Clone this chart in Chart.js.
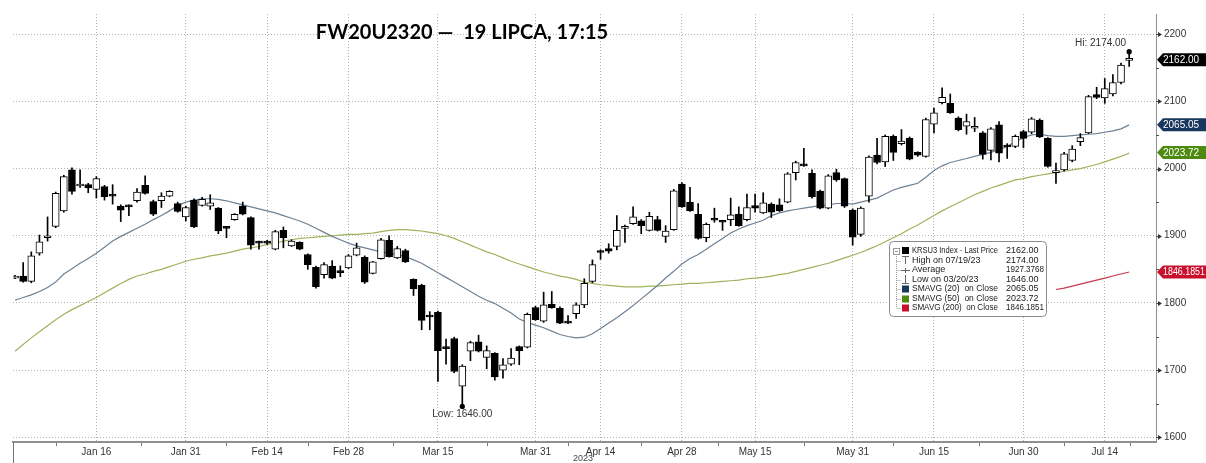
<!DOCTYPE html>
<html>
<head>
<meta charset="utf-8">
<script src="https://cdn.jsdelivr.net/npm/chart.js@4.4.1/dist/chart.umd.min.js"></script>
<style>
  html, body { margin: 0; padding: 0; background: #fff; }
  #wrap { position: relative; width: 1206px; height: 463px; }
</style>
</head>
<body>
<div id="wrap"><canvas id="chart" width="1206" height="463"></canvas></div>
<script>
// trading days (Dec 30 2022 .. Jul 19 2023)
const decDays = [30];
const janDays = [2,3,4,5,9,10,11,12,13,16,17,18,19,20,23,24,25,26,27,30,31];
const febDays = [1,2,3,6,7,8,9,10,13,14,15,16,17,20,21,22,23,24,27,28];
const marDays = [1,2,3,6,7,8,9,10,13,14,15,16,17,20,21,22,23,24,27,28,29,30,31];
const aprDays = [3,4,5,6,11,12,13,14,17,18,19,20,21,24,25,26,27,28];
const mayDays = [2,4,5,8,9,10,11,12,15,16,17,18,19,22,23,24,25,26,29,30,31];
const junDays = [1,2,5,6,7,9,12,13,14,15,16,19,20,21,22,23,26,27,28,29,30];
const julDays = [3,4,5,6,7,10,11,12,13,14,17,18,19];

const tickNames = ['Jan 16','Jan 31','Feb 14','Feb 28','Mar 15','Mar 31','Apr 14','Apr 28','May 15','May 31','Jun 15','Jun 30','Jul 14'];
const yTicks = [1600,1700,1800,1900,2000,2100,2200];

const opens = [
  1837,1840,1832,1874,1897,1914,1937,1998,1974,1976,
  1969,1973,1961,1944,1945,1952,1975,1951,1952,1959,
  1948,1928,1953,1945,1944,1941,1913,1924,1944,1927,
  1891,1892,1880,1908,1885,1890,1872,1853,1842,1855,
  1847,1852,1871,1868,1844,1866,1893,1867,1878,1835,
  1826,1781,1786,1734,1747,1676,1728,1742,1719,1725,
  1700,1709,1735,1734,1793,1773,1798,1792,1772,1784,
  1797,1832,1877,1881,1884,1911,1918,1922,1908,1924,
  1899,1909,1977,1950,1932,1897,1925,1922,1924,1932,
  1924,1945,1934,1947,1946,1950,1994,2007,1993,1966,
  1941,1994,1985,1938,1902,1959,2020,2010,2048,2037,
  2045,2024,2018,2066,2098,2097,2075,2063,2060,2053,
  2027,2065,2035,2033,2055,2054,2072,2045,1994,1998,
  2012,2040,2053,2110,2105,2111,2128,2161
];
const highs = [
  1841,1860,1876,1901,1928,1965,1990,2001,1998,1978,
  1988,1975,1976,1946,1946,1970,1989,1953,1964,1967,
  1950,1944,1955,1957,1961,1942,1914,1933,1950,1928,
  1892,1893,1908,1913,1894,1891,1873,1855,1860,1863,
  1855,1872,1889,1870,1862,1896,1900,1884,1880,1836,
  1828,1787,1788,1746,1749,1708,1743,1752,1736,1726,
  1717,1732,1736,1785,1795,1816,1817,1794,1781,1800,
  1836,1864,1879,1888,1930,1916,1943,1924,1935,1929,
  1915,1969,1979,1972,1948,1919,1941,1923,1956,1943,
  1962,1962,1964,1949,1955,1994,2011,2030,1998,1968,
  1991,1999,1986,1940,1943,2019,2045,2050,2050,2058,
  2047,2025,2075,2090,2120,2111,2077,2081,2076,2055,
  2061,2070,2037,2050,2057,2076,2074,2046,2008,2024,
  2034,2052,2109,2121,2134,2140,2157,2174
];
const lows = [
  1836,1831,1830,1871,1892,1912,1935,1962,1972,1964,
  1956,1953,1947,1921,1930,1950,1962,1930,1942,1958,
  1935,1922,1912,1944,1939,1903,1897,1923,1931,1880,
  1880,1887,1879,1882,1884,1879,1850,1822,1837,1836,
  1839,1851,1870,1829,1843,1865,1868,1866,1860,1811,
  1760,1760,1683,1709,1696,1646,1714,1727,1702,1685,
  1688,1707,1708,1733,1774,1771,1792,1769,1769,1777,
  1793,1830,1865,1874,1879,1890,1917,1903,1907,1907,
  1890,1908,1942,1936,1895,1891,1920,1908,1915,1914,
  1922,1935,1933,1927,1936,1949,1983,2003,1956,1940,
  1940,1981,1942,1886,1899,1950,2007,2003,2012,2035,
  2013,2018,2017,2053,2096,2082,2056,2051,2055,2014,
  2013,2010,2015,2031,2031,2052,2046,2002,1978,1996,
  2010,2034,2052,2104,2097,2108,2126,2152
];
const closes = [
  1839,1832,1870,1891,1899,1963,1988,1966,1977,1971,
  1985,1958,1959,1938,1943,1965,1963,1932,1959,1966,
  1936,1942,1913,1954,1949,1907,1911,1932,1932,1886,
  1889,1889,1906,1897,1892,1880,1857,1824,1857,1837,
  1845,1870,1882,1831,1861,1894,1869,1881,1861,1821,
  1774,1779,1729,1732,1698,1706,1741,1728,1729,1690,
  1708,1718,1729,1783,1775,1797,1793,1770,1770,1797,
  1829,1857,1875,1877,1908,1914,1928,1915,1929,1908,
  1907,1967,1943,1937,1896,1917,1923,1920,1931,1915,
  1942,1941,1949,1935,1937,1992,2009,2004,1958,1941,
  1989,1983,1944,1898,1941,2017,2009,2048,2024,2041,
  2014,2020,2073,2083,2106,2083,2058,2070,2063,2021,
  2059,2023,2032,2048,2045,2074,2047,2003,1996,2022,
  2029,2046,2107,2106,2119,2128,2154,2162
];
const sma20 = [
  1804,1808,1812,1817,1823,1831,1843,1851,1859,1866,
  1874,1883,1892,1899,1905,1911,1917,1924,1930,1937,
  1945,1950,1953,1955,1955,1954,1952,1949,1946,1943,
  1940,1937,1934,1930,1926,1922,1917,1911,1905,1899,
  1894,1889,1885,1882,1879,1876,1874,1872,1869,1864,
  1859,1852,1845,1838,1831,1824,1817,1810,1804,1799,
  1792,1785,1776,1771,1767,1763,1758,1753,1750,1748,
  1749,1754,1762,1770,1778,1787,1796,1806,1816,1826,
  1837,1847,1858,1866,1872,1880,1888,1896,1904,1910,
  1915,1919,1923,1930,1934,1937,1939,1941,1943,1945,
  1946,1948,1948,1947,1950,1953,1956,1962,1968,1972,
  1975,1978,1987,1997,2004,2009,2012,2015,2018,2021,
  2024,2028,2033,2040,2046,2050,2051,2049,2048,2048,
  2049,2050,2051,2052,2054,2056,2059,2065
];
const sma50 = [
  1728,1738,1748,1757,1766,1775,1783,1790,1796,1802,
  1808,1815,1822,1829,1835,1840,1843,1847,1850,1854,
  1858,1862,1865,1867,1870,1872,1874,1877,1880,1882,
  1884,1887,1889,1892,1894,1896,1897,1898,1899,1900,
  1901,1902,1902,1903,1904,1906,1908,1909,1909,1908,
  1907,1905,1903,1900,1896,1891,1886,1881,1876,1872,
  1867,1862,1858,1854,1850,1846,1843,1840,1838,1835,
  1831,1829,1827,1826,1825,1824,1824,1824,1825,1825,
  1826,1827,1828,1829,1829,1830,1831,1832,1833,1834,
  1836,1837,1838,1840,1842,1844,1847,1850,1853,1856,
  1859,1863,1867,1871,1875,1880,1885,1891,1897,1903,
  1910,1916,1923,1930,1937,1943,1949,1955,1961,1966,
  1971,1975,1979,1983,1985,1988,1990,1992,1994,1996,
  1998,2000,2003,2006,2010,2014,2018,2023
];
const sma200Start = 128;
const sma200 = [1820,1822,1825,1828,1831,1834,1837,1840,1843,1846];

const legendRows = [
  ['KRSU3 Index - Last Price', '2162.00'],
  ['High on 07/19/23', '2174.00'],
  ['Average', '1927.3768'],
  ['Low on 03/20/23', '1646.00'],
  ['SMAVG (20)  on Close', '2065.05'],
  ['SMAVG (50)  on Close', '2023.72'],
  ['SMAVG (200)  on Close', '1846.1851']
];
const titleText = 'FW20U2320 \u2014  19 LIPCA, 17:15';

const sma20Color = '#6e8194';
const sma50Color = '#9db35c';
const sma200Color = '#c7354f';

// build category dates
const monthParts = [['Dec', decDays], ['Jan', janDays], ['Feb', febDays], ['Mar', marDays],
                    ['Apr', aprDays], ['May', mayDays], ['Jun', junDays], ['Jul', julDays]];
const dates = [];
monthParts.forEach(([m, days]) => days.forEach(d => dates.push(m + ' ' + d)));
const tickIdx = tickNames.map(n => dates.indexOf(n));

const wicks = dates.map((d, i) => ({ x: i, y: [lows[i], highs[i]] }));
const bodies = dates.map((d, i) => ({ x: i, y: [opens[i], closes[i]] }));
const line20 = sma20.map((v, i) => ({ x: i, y: v }));
const line50 = sma50.map((v, i) => ({ x: i, y: v }));
const line200 = sma200.map((v, i) => ({ x: sma200Start + i, y: v }));

const uiFont = '"Liberation Sans", Arial, sans-serif';

function drawTag(c, y, text, color, left) {
  c.fillStyle = color;
  c.beginPath();
  c.moveTo(left, y);
  c.lineTo(left + 6, y - 6.5);
  c.lineTo(1206, y - 6.5);
  c.lineTo(1206, y + 6.5);
  c.lineTo(left + 6, y + 6.5);
  c.closePath();
  c.fill();
  c.fillStyle = '#fff';
  c.font = '10px ' + uiFont;
  c.textAlign = 'left';
  c.textBaseline = 'middle';
  c.fillText(text, left + 6, y + 0.5, 1206 - left - 7);
}

const overlay = {
  id: 'overlay',
  afterDraw(chart) {
    const c = chart.ctx, xs = chart.scales.x, ys = chart.scales.y, a = chart.chartArea;
    c.save();

    // title
    c.fillStyle = '#000';
    c.font = 'bold 20px Lato, "Open Sans", sans-serif';
    c.textAlign = 'center';
    c.textBaseline = 'middle';
    c.fillText(titleText, 462, 33);

    // y axis arrows + minor ticks
    c.fillStyle = '#333';
    c.strokeStyle = '#555';
    c.lineWidth = 1;
    yTicks.forEach(v => {
      const py = Math.round(ys.getPixelForValue(v)) + 0.5;
      c.beginPath(); c.moveTo(a.right, py); c.lineTo(a.right + 3, py); c.stroke();
      c.beginPath(); c.moveTo(a.right + 2, py - 2.5); c.lineTo(a.right + 6, py); c.lineTo(a.right + 2, py + 2.5); c.closePath(); c.fill();
    });
    for (let v = 1650; v < 2230; v += 100) {
      const py = Math.round(ys.getPixelForValue(v)) + 0.5;
      c.beginPath(); c.moveTo(a.right, py); c.lineTo(a.right + 3, py); c.stroke();
    }

    // x minor ticks between labelled dates
    c.strokeStyle = '#777';
    for (let k = 0; k < tickIdx.length; k++) {
      const mid = k === 0 ? tickIdx[0] / 2 : (tickIdx[k - 1] + tickIdx[k]) / 2;
      const px = Math.round(xs.getPixelForValue(mid)) + 0.5;
      c.beginPath(); c.moveTo(px, a.bottom + 1); c.lineTo(px, a.bottom + 4); c.stroke();
    }
    const lastMid = (tickIdx[tickIdx.length - 1] + xs.max) / 2;
    const lpx = Math.round(xs.getPixelForValue(lastMid)) + 0.5;
    c.beginPath(); c.moveTo(lpx, a.bottom + 1); c.lineTo(lpx, a.bottom + 4); c.stroke();
    c.beginPath(); c.moveTo(a.left + 0.5, a.bottom); c.lineTo(a.left + 0.5, 463); c.stroke();

    // year
    c.fillStyle = '#444';
    c.font = '9px ' + uiFont;
    c.textAlign = 'center';
    c.fillText('2023', 583, 459);

    // hi / low markers
    const hiIdx = highs.indexOf(Math.max(...highs));
    const loIdx = lows.indexOf(Math.min(...lows));
    const hx = xs.getPixelForValue(hiIdx), hy = ys.getPixelForValue(highs[hiIdx]);
    const lx = xs.getPixelForValue(loIdx), ly = ys.getPixelForValue(lows[loIdx]);
    c.fillStyle = '#000';
    c.beginPath(); c.arc(hx, hy, 2.6, 0, Math.PI * 2); c.fill();
    c.beginPath(); c.arc(lx, ly, 2.6, 0, Math.PI * 2); c.fill();
    c.fillStyle = '#333';
    c.font = '10px ' + uiFont;
    c.textAlign = 'right';
    c.fillText('Hi: ' + highs[hiIdx].toFixed(2), hx - 3, hy - 8);
    c.textAlign = 'center';
    c.fillText('Low: ' + lows[loIdx].toFixed(2), lx, ly + 8);

    // right tags
    const tagCols = ['#000', '#17375e', '#4f8a10', '#c8102e'];
    const tagRows = [0, 4, 5, 6];
    tagRows.forEach((r, k) => {
      const val = parseFloat(legendRows[r][1]);
      drawTag(c, ys.getPixelForValue(val), legendRows[r][1], tagCols[k], a.right + 1);
    });

    // legend box
    const bx = 889.5, by = 241.5, bw = 157, bh = 75;
    c.fillStyle = '#fff';
    c.strokeStyle = '#8a8a8a';
    c.beginPath();
    c.roundRect(bx, by, bw, bh, 4);
    c.fill();
    c.stroke();
    const rowY = [251, 260.5, 270, 279.5, 289, 298.5, 308];
    // tree lines
    c.strokeStyle = '#999';
    c.setLineDash([1, 1]);
    c.beginPath(); c.moveTo(896.5, 254); c.lineTo(896.5, rowY[6]); c.stroke();
    for (let r = 1; r < 7; r++) {
      c.beginPath(); c.moveTo(896.5, Math.round(rowY[r]) + 0.5); c.lineTo(901, Math.round(rowY[r]) + 0.5); c.stroke();
    }
    c.setLineDash([]);
    c.strokeRect(893.5, 248.5, 6, 6);
    c.beginPath(); c.moveTo(895, 251.5); c.lineTo(898, 251.5); c.stroke();
    // icons
    c.fillStyle = '#000';
    c.fillRect(902, 247, 7, 7);
    c.strokeStyle = '#666';
    c.beginPath(); c.moveTo(902, 256.5); c.lineTo(909, 256.5); c.moveTo(905.5, 256.5); c.lineTo(905.5, 264); c.stroke();
    c.beginPath(); c.moveTo(901, 270.5); c.lineTo(910, 270.5); c.moveTo(905.5, 268); c.lineTo(905.5, 273); c.stroke();
    c.beginPath(); c.moveTo(905.5, 275); c.lineTo(905.5, 283.5); c.moveTo(902, 283.5); c.lineTo(909, 283.5); c.stroke();
    [['#17375e', 4], ['#4f8a10', 5], ['#c8102e', 6]].forEach(([col, r]) => {
      c.fillStyle = col;
      c.fillRect(902, Math.round(rowY[r]) - 3.5, 7, 7);
    });
    c.fillStyle = '#222';
    c.font = '9px ' + uiFont;
    c.textBaseline = 'middle';
    c.textAlign = 'left';
    legendRows.forEach(([lab, val], r) => {
      c.fillText(lab, 912, rowY[r], 86);
      c.fillText(val, 1006, rowY[r], 38);
    });

    c.restore();
  }
};

new Chart(document.getElementById('chart').getContext('2d'), {
  type: 'bar',
  data: {
    datasets: [
      { type: 'line', data: line200, borderColor: sma200Color, borderWidth: 1.2, pointRadius: 0, order: 5 },
      { type: 'line', data: line50, borderColor: sma50Color, borderWidth: 1.2, pointRadius: 0, order: 4 },
      { type: 'line', data: line20, borderColor: sma20Color, borderWidth: 1.2, pointRadius: 0, order: 3 },
      { data: wicks, backgroundColor: '#000', barThickness: 1, grouped: false, order: 2 },
      {
        data: bodies,
        backgroundColor: ctx => closes[ctx.dataIndex] >= opens[ctx.dataIndex] ? '#fff' : '#000',
        borderColor: '#000', borderWidth: 1, borderSkipped: false,
        barThickness: 7, minBarLength: 2, grouped: false, order: 1
      }
    ]
  },
  options: {
    responsive: false,
    animation: false,
    devicePixelRatio: 1,
    layout: { padding: { left: 13, top: 3, right: 0, bottom: 0 } },
    plugins: { legend: { display: false }, tooltip: { enabled: false } },
    scales: {
      x: {
        type: 'linear', min: -0.25, max: 140.3, offset: false,
        afterBuildTicks: s => { s.ticks = tickIdx.map(v => ({ value: v })); },
        afterFit: s => { s.height = 21; },
        ticks: {
          autoSkip: false, maxRotation: 0, padding: 4, color: '#333',
          font: { family: uiFont, size: 10 },
          callback: v => tickNames[tickIdx.indexOf(v)]
        },
        grid: { color: '#b4b4b4', drawTicks: false, offset: false },
        border: { color: '#8f8f8f', width: 2, dash: [1, 2] }
      },
      y: {
        position: 'right', min: 1593, max: 2230,
        afterBuildTicks: s => { s.ticks = yTicks.map(v => ({ value: v })); },
        afterFit: s => { s.width = 50; },
        ticks: {
          padding: 8, color: '#333',
          font: { family: uiFont, size: 10 },
          callback: v => String(v)
        },
        grid: { color: '#b4b4b4', drawTicks: false },
        border: { color: '#8f8f8f', width: 1, dash: [1, 2] }
      }
    }
  },
  plugins: [overlay]
});
</script>
</body>
</html>
